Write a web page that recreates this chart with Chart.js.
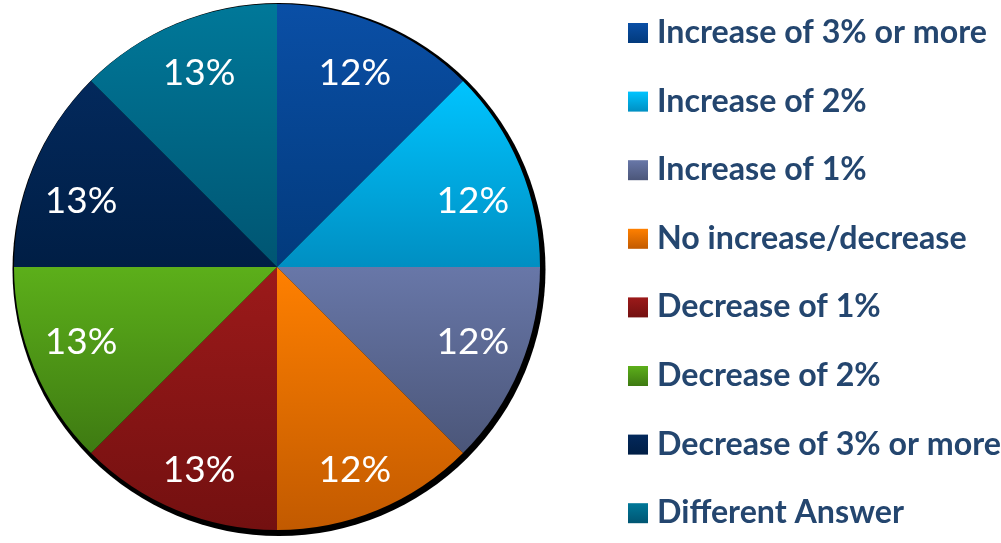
<!DOCTYPE html>
<html>
<head>
<meta charset="utf-8">
<script src="https://cdn.jsdelivr.net/npm/chart.js@4.4.1/dist/chart.umd.min.js"></script>
<style>
  html, body { margin: 0; padding: 0; background: #fff; }
  #wrap { position: relative; width: 1001px; height: 543px; }
</style>
</head>
<body>
<div id="wrap"><canvas id="pie"></canvas></div>
<script>
const answers = [
  'Increase of 3% or more',
  'Increase of 2%',
  'Increase of 1%',
  'No increase/decrease',
  'Decrease of 1%',
  'Decrease of 2%',
  'Decrease of 3% or more',
  'Different Answer',
];
// every slice is an eighth of the pie; the labels show the rounded percentages
const shares = [12.5, 12.5, 12.5, 12.5, 12.5, 12.5, 12.5, 12.5];
const shareLabels = ['12%', '12%', '12%', '12%', '13%', '13%', '13%', '13%'];

const topColors = ['#0a4fa6', '#00c4ff', '#6877a8', '#ff8000', '#9c1a1a', '#5caf1a', '#03295c', '#007899'];
const bottomColors = ['#023a7c', '#008fc2', '#4b5679', '#c25a00', '#731010', '#3e7a12', '#001e45', '#005572'];

const TEXT = '#24466f';

function sliceRange(chart, i) {
  const a = chart.chartArea;
  const cx = (a.left + a.right) / 2, cy = (a.top + a.bottom) / 2;
  const r = Math.min(a.right - a.left, a.bottom - a.top) / 2;
  const total = shares.reduce((s, v) => s + v, 0);
  let before = 0;
  for (let k = 0; k < i; k++) before += shares[k];
  const a0 = -Math.PI / 2 + before / total * Math.PI * 2;
  const a1 = a0 + shares[i] / total * Math.PI * 2;
  const ys = [cy, cy + r * Math.sin(a0), cy + r * Math.sin(a1)];
  // include the very top / bottom of the circle if the slice passes it
  for (const t of [-Math.PI / 2, Math.PI / 2, Math.PI * 1.5]) {
    if (t > a0 && t < a1) ys.push(cy + r * Math.sin(t));
  }
  return { y0: Math.min(...ys), y1: Math.max(...ys) };
}

function sliceFill(context) {
  const chart = context.chart;
  const i = context.dataIndex;
  if (!chart.chartArea) return topColors[i];
  const s = sliceRange(chart, i);
  const g = chart.ctx.createLinearGradient(0, s.y0, 0, s.y1);
  g.addColorStop(0, topColors[i]);
  g.addColorStop(1, bottomColors[i]);
  return g;
}

const pieShadow = {
  id: 'pieShadow',
  beforeDatasetsDraw(chart) {
    const a = chart.chartArea;
    const cx = (a.left + a.right) / 2, cy = (a.top + a.bottom) / 2;
    const r = Math.min(a.right - a.left, a.bottom - a.top) / 2;
    const ctx = chart.ctx;
    ctx.save();
    ctx.fillStyle = '#000';
    ctx.beginPath();
    ctx.arc(cx + 2, cy + 2.5, r + 3.5, 0, Math.PI * 2);
    ctx.fill();
    ctx.restore();
  }
};

const sliceText = {
  id: 'sliceText',
  afterDatasetsDraw(chart) {
    const ctx = chart.ctx;
    const meta = chart.getDatasetMeta(0);
    ctx.save();
    ctx.fillStyle = '#fff';
    ctx.font = '37px Lato';
    ctx.textAlign = 'center';
    ctx.textBaseline = 'middle';
    meta.data.forEach((arc, i) => {
      const p = arc.getProps(['x', 'y', 'startAngle', 'endAngle', 'outerRadius'], true);
      const mid = (p.startAngle + p.endAngle) / 2;
      const c = Math.cos(mid), s = Math.sin(mid);
      const r = p.outerRadius;
      // inside-end placement: the text box is pulled in from the rim
      const x = p.x + c * r * 0.829 - Math.sign(c) * r * 0.021;
      const y = p.y + s * r * 0.9 - Math.sign(s) * r * 0.078 + 4.5;
      ctx.fillText(shareLabels[i], x, y);
    });
    ctx.restore();
  }
};

const sideLegend = {
  id: 'sideLegend',
  afterDraw(chart) {
    const ctx = chart.ctx;
    ctx.save();
    // size the font so the first entry spans the same width as the original
    let size = 28;
    ctx.font = `bold ${size}px Lato`;
    size = size * 330 / ctx.measureText(answers[0]).width;
    ctx.font = `bold ${size.toFixed(1)}px Lato`;
    ctx.textBaseline = 'alphabetic';
    answers.forEach((name, i) => {
      const base = 43 + i * 68.6;
      const g = ctx.createLinearGradient(0, base - 20, 0, base);
      g.addColorStop(0, topColors[i]);
      g.addColorStop(1, bottomColors[i]);
      ctx.fillStyle = g;
      ctx.fillRect(628, base - 20, 20, 20);
      ctx.fillStyle = TEXT;
      ctx.fillText(name, 657, base);
    });
    ctx.restore();
  }
};

new Chart(document.getElementById('pie'), {
  type: 'pie',
  data: {
    labels: answers,
    datasets: [{
      data: shares,
      backgroundColor: sliceFill,
      borderWidth: 0,
    }]
  },
  options: {
    responsive: true,
    maintainAspectRatio: false,
    animation: false,
    layout: { padding: { left: 14, right: 461, top: 4, bottom: 13 } },
    plugins: {
      legend: { display: false },
      tooltip: { enabled: false },
    }
  },
  plugins: [pieShadow, sliceText, sideLegend]
});
</script>
</body>
</html>
